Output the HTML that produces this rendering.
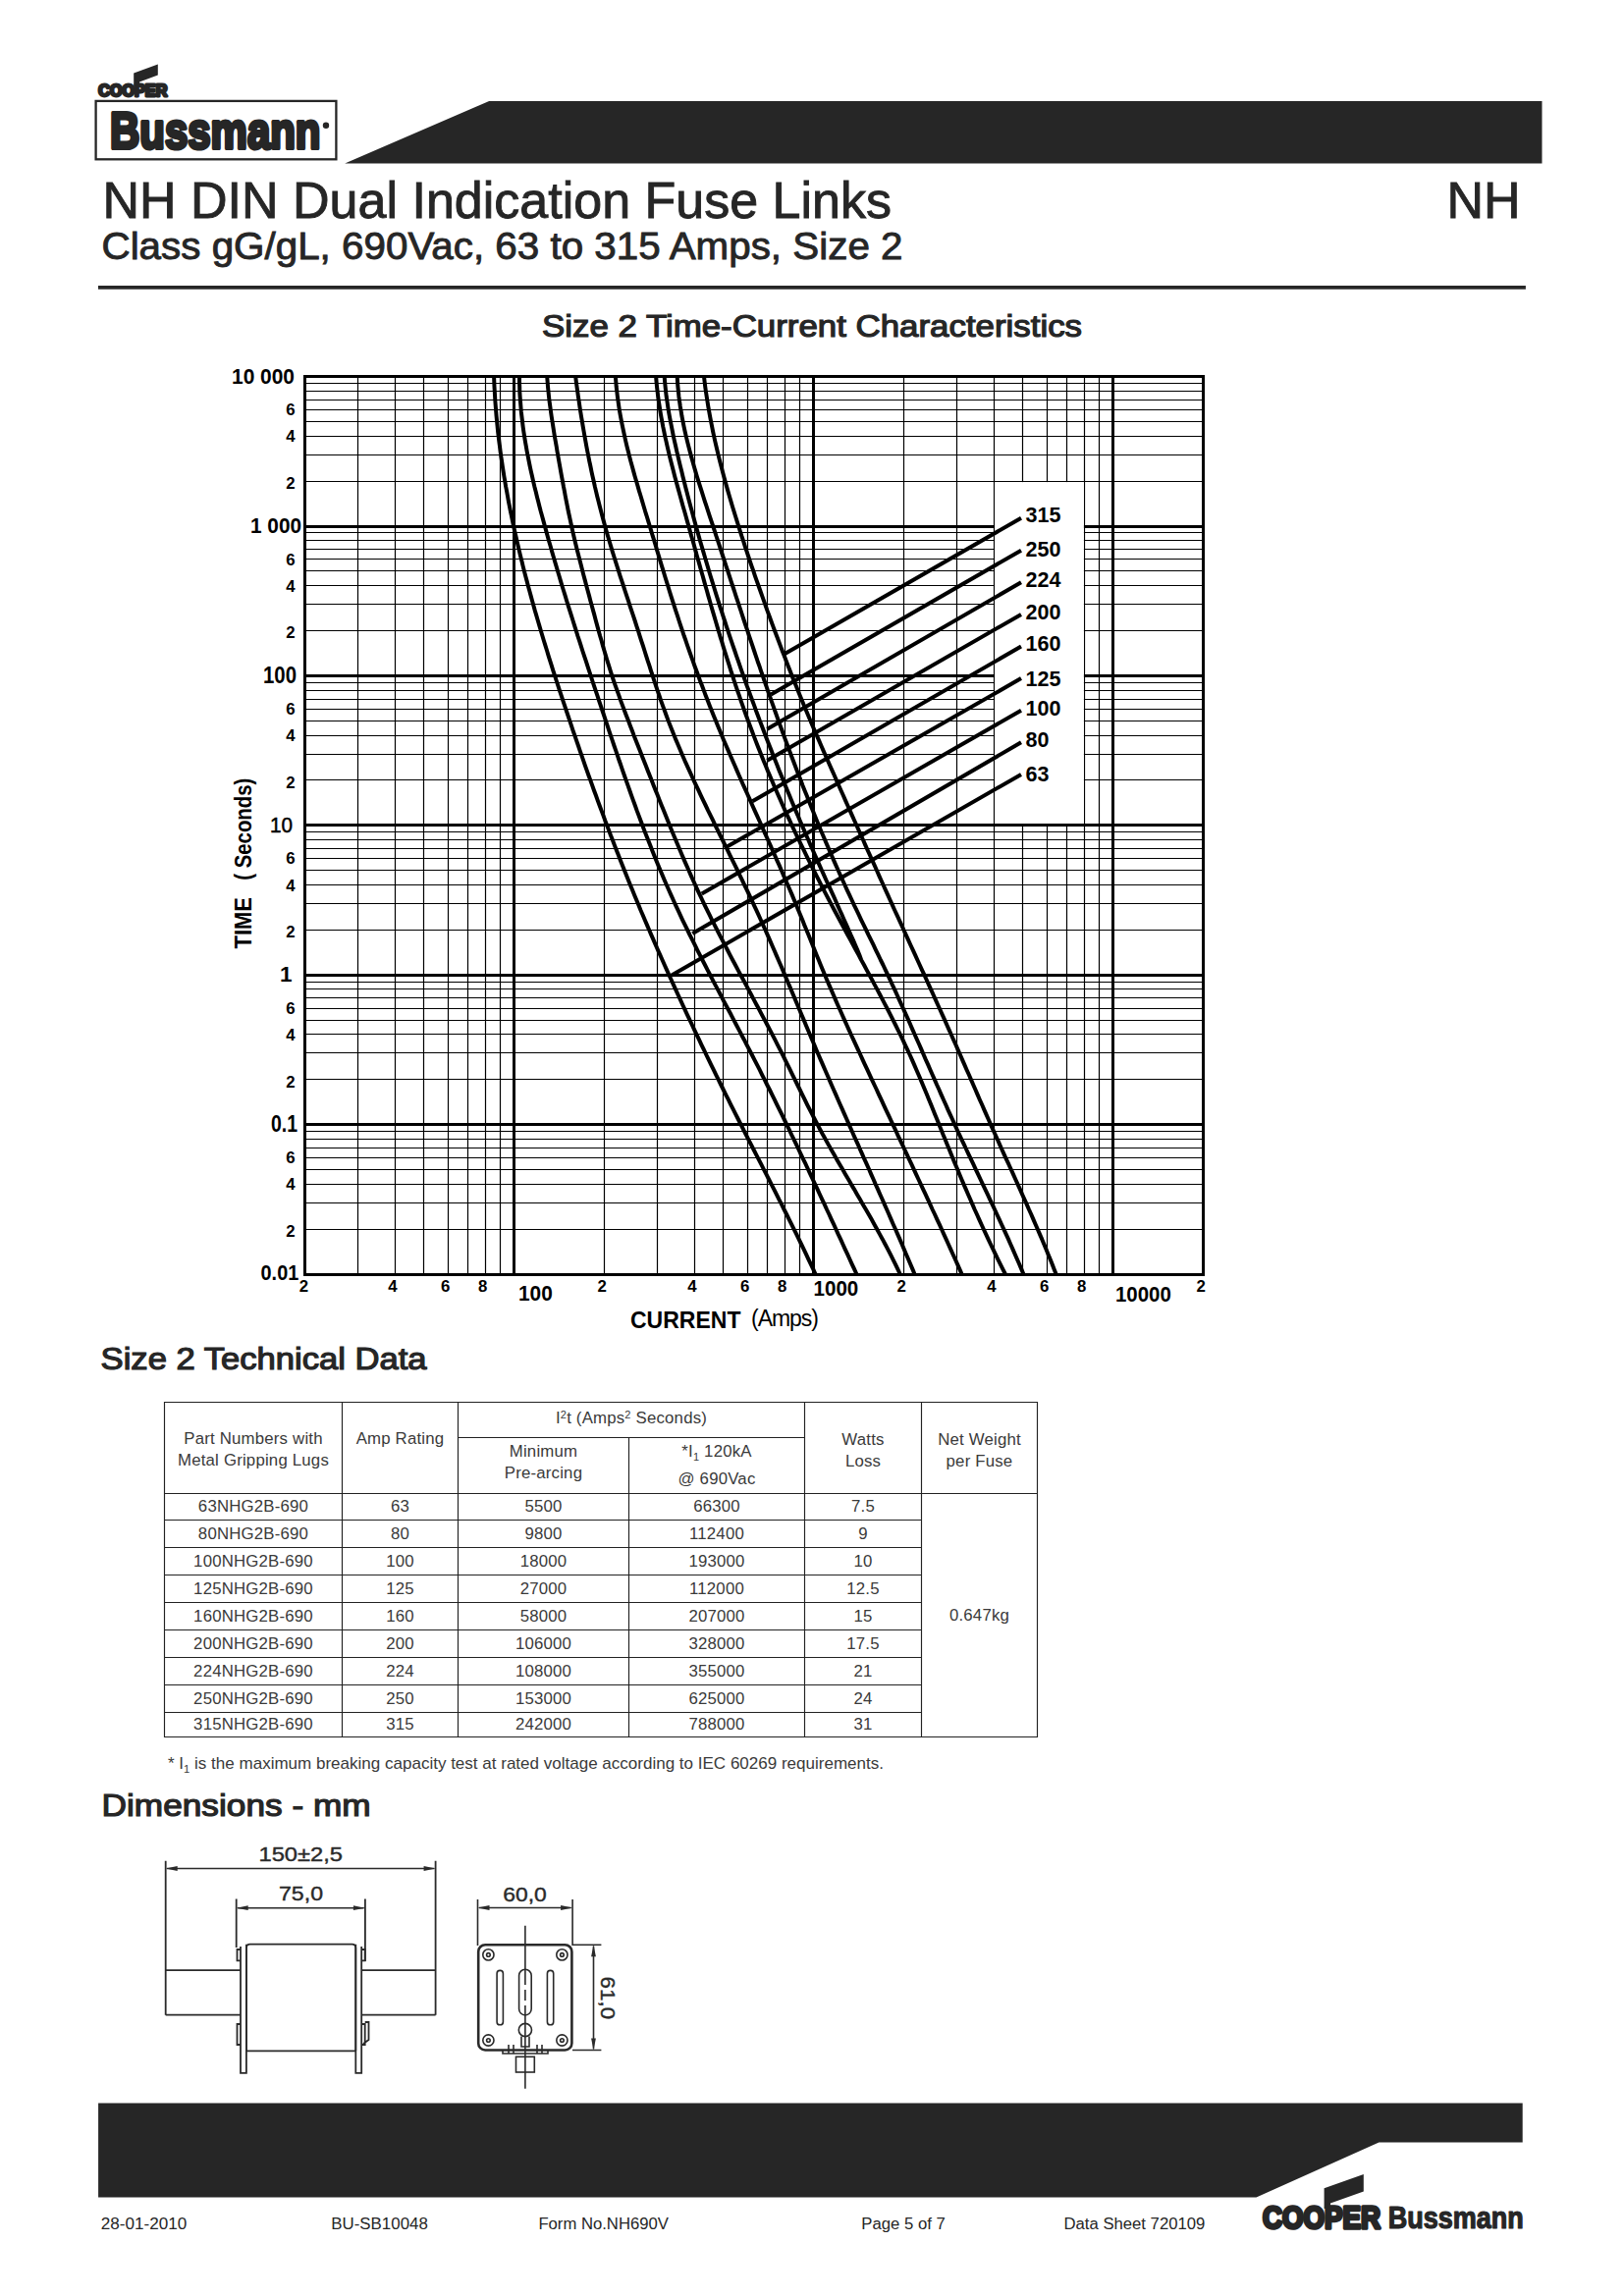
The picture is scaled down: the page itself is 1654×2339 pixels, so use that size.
<!DOCTYPE html>
<html lang="en"><head><meta charset="utf-8"><title>NH DIN Dual Indication Fuse Links - Size 2</title>
<style>
html,body{margin:0;padding:0;background:#fff}
body{width:1654px;height:2339px;position:relative;overflow:hidden}
svg{position:absolute;left:0;top:0}
</style></head><body>
<svg width="1654" height="2339" viewBox="0 0 1654 2339">
<g fill="#262626">
<text x="100.3" y="97.6" font-family="'Liberation Sans', Arial, sans-serif" font-weight="bold" font-size="16" textLength="70" lengthAdjust="spacingAndGlyphs" stroke="#262626" stroke-width="2.8" stroke-linejoin="round">COOPER</text>
<polygon points="136.2,74.6 160.8,65.4 160.8,76.6 142,83.5 142,88 136.2,88"/>
<rect x="97.6" y="102.9" width="244.8" height="59.4" fill="none" stroke="#262626" stroke-width="2.3"/>
<text x="112" y="151.3" font-family="'Liberation Sans', Arial, sans-serif" font-weight="bold" font-size="52.5" textLength="214.5" lengthAdjust="spacingAndGlyphs" stroke="#262626" stroke-width="4" stroke-linejoin="round">Bussmann</text>
<circle cx="332" cy="127.7" r="3.2"/>
<polygon points="351.2,166.6 498.1,103 1570.5,103 1570.5,166.6"/>
<rect x="100" y="291" width="1453.9" height="3.7"/>
</g>
<g font-family="'Liberation Sans', Arial, sans-serif" fill="#262626" stroke="#262626" stroke-width="0.9">
<text x="104.5" y="221.8" font-size="52">NH DIN Dual Indication Fuse Links</text>
<text x="1473.5" y="221.7" font-size="52">NH</text>
<text x="103.5" y="263.5" font-size="39.5" textLength="816" lengthAdjust="spacingAndGlyphs">Class gG/gL, 690Vac, 63 to 315 Amps, Size 2</text>
<text x="552" y="342.8" font-size="31.5" stroke-width="1.2" textLength="550" lengthAdjust="spacingAndGlyphs">Size 2 Time-Current Characteristics</text>
<text x="102.6" y="1394.7" font-size="31.2" stroke-width="1.2" textLength="332" lengthAdjust="spacingAndGlyphs">Size 2 Technical Data</text>
<text x="103.6" y="1850.1" font-size="31.2" stroke-width="1.2" textLength="274" lengthAdjust="spacingAndGlyphs">Dimensions - mm</text>
</g>
<g id="chart">
<path d="M310.5 1252.5H1225.5M310.5 1225.5H1225.5M310.5 1206.5H1225.5M310.5 1191.5H1225.5M310.5 1179.5H1225.5M310.5 1169.5H1225.5M310.5 1160.5H1225.5M310.5 1152.5H1225.5M310.5 1099.5H1225.5M310.5 1072.5H1225.5M310.5 1053.5H1225.5M310.5 1039.5H1225.5M310.5 1027.5H1225.5M310.5 1016.5H1225.5M310.5 1007.5H1225.5M310.5 1000.5H1225.5M310.5 947.5H1225.5M310.5 920.5H1225.5M310.5 901.5H1225.5M310.5 886.5H1225.5M310.5 874.5H1225.5M310.5 864.5H1225.5M310.5 855.5H1225.5M310.5 847.5H1225.5M310.5 794.5H1225.5M310.5 768.5H1225.5M310.5 749.5H1225.5M310.5 734.5H1225.5M310.5 722.5H1225.5M310.5 712.5H1225.5M310.5 703.5H1225.5M310.5 695.5H1225.5M310.5 642.5H1225.5M310.5 615.5H1225.5M310.5 596.5H1225.5M310.5 581.5H1225.5M310.5 569.5H1225.5M310.5 559.5H1225.5M310.5 550.5H1225.5M310.5 542.5H1225.5M310.5 490.5H1225.5M310.5 463.5H1225.5M310.5 444.5H1225.5M310.5 429.5H1225.5M310.5 417.5H1225.5M310.5 407.5H1225.5M310.5 398.5H1225.5M310.5 390.5H1225.5M364.5 383.6V1298.0M402.5 383.6V1298.0M431.5 383.6V1298.0M456.5 383.6V1298.0M476.5 383.6V1298.0M494.5 383.6V1298.0M509.5 383.6V1298.0M615.5 383.6V1298.0M669.5 383.6V1298.0M707.5 383.6V1298.0M736.5 383.6V1298.0M761.5 383.6V1298.0M781.5 383.6V1298.0M799.5 383.6V1298.0M814.5 383.6V1298.0M920.5 383.6V1298.0M974.5 383.6V1298.0M1012.5 383.6V1298.0M1041.5 383.6V1298.0M1066.5 383.6V1298.0M1086.5 383.6V1298.0M1104.5 383.6V1298.0M1119.5 383.6V1298.0" stroke="#000" stroke-width="1.2" fill="none"/>
<path d="M310.5 1145.5H1225.5M310.5 993.5H1225.5M310.5 840.5H1225.5M310.5 688.5H1225.5M310.5 536.5H1225.5M523.5 383.6V1298.0M828.5 383.6V1298.0M1133.5 383.6V1298.0" stroke="#000" stroke-width="3" fill="none"/>
<rect x="1013.1" y="491.1" width="90.8" height="347.9" fill="#fff"/>
<rect x="310.5" y="383.5" width="915.0" height="915.0" stroke="#000" stroke-width="3" fill="none"/>
<path d="M503.1,383.6 503.3,388.7 503.5,393.8 503.8,398.8 504.1,403.9 504.4,409.0 504.8,414.1 505.2,419.2 505.6,424.2 506.1,429.3 506.6,434.4 507.1,439.5 507.7,444.6 508.3,449.6 509.0,454.7 509.6,459.8 510.3,464.9 511.1,470.0 511.8,475.0 512.6,480.1 513.4,485.2 514.3,490.3 515.1,495.4 516.1,500.4 517.0,505.5 517.9,510.6 518.9,515.7 519.9,520.8 521.0,525.8 522.0,530.9 523.1,536.0 524.2,541.1 525.4,546.2 526.5,551.2 527.7,556.3 528.9,561.4 530.1,566.5 531.4,571.6 532.6,576.6 533.9,581.7 535.2,586.8 536.6,591.9 537.9,597.0 539.3,602.0 540.7,607.1 542.1,612.2 543.5,617.3 544.9,622.4 546.4,627.4 547.9,632.5 549.4,637.6 550.9,642.7 552.4,647.8 553.9,652.8 555.5,657.9 557.1,663.0 558.6,668.1 560.2,673.2 561.8,678.2 563.4,683.3 565.1,688.4 566.7,693.5 568.4,698.6 570.0,703.6 571.7,708.7 573.4,713.8 575.1,718.9 576.8,724.0 578.5,729.0 580.2,734.1 581.9,739.2 583.6,744.3 585.4,749.4 587.1,754.4 588.9,759.5 590.6,764.6 592.4,769.7 594.2,774.8 595.9,779.8 597.7,784.9 599.5,790.0 601.4,795.1 603.2,800.2 605.0,805.2 606.9,810.3 608.7,815.4 610.6,820.5 612.5,825.6 614.4,830.6 616.2,835.7 618.2,840.8 620.1,845.9 622.0,851.0 624.0,856.0 625.9,861.1 627.9,866.2 629.9,871.3 631.9,876.4 633.9,881.4 635.9,886.5 637.9,891.6 640.0,896.7 642.0,901.8 644.1,906.8 646.2,911.9 648.3,917.0 650.4,922.1 652.5,927.2 654.7,932.2 656.8,937.3 659.0,942.4 661.2,947.5 663.4,952.6 665.6,957.6 667.8,962.7 670.0,967.8 672.3,972.9 674.6,978.0 676.8,983.0 679.1,988.1 681.4,993.2 683.7,998.3 686.0,1003.4 688.3,1008.4 690.6,1013.5 693.0,1018.6 695.3,1023.7 697.7,1028.8 700.0,1033.8 702.4,1038.9 704.8,1044.0 707.2,1049.1 709.6,1054.2 712.0,1059.2 714.4,1064.3 716.9,1069.4 719.3,1074.5 721.8,1079.6 724.2,1084.6 726.7,1089.7 729.2,1094.8 731.7,1099.9 734.2,1105.0 736.7,1110.0 739.2,1115.1 741.8,1120.2 744.3,1125.3 746.9,1130.4 749.4,1135.4 752.0,1140.5 754.6,1145.6 757.1,1150.7 759.7,1155.8 762.3,1160.8 764.9,1165.9 767.5,1171.0 770.1,1176.1 772.7,1181.2 775.3,1186.2 777.9,1191.3 780.5,1196.4 783.1,1201.5 785.7,1206.6 788.3,1211.6 790.8,1216.7 793.4,1221.8 796.0,1226.9 798.5,1232.0 801.1,1237.0 803.6,1242.1 806.1,1247.2 808.7,1252.3 811.2,1257.4 813.6,1262.4 816.1,1267.5 818.6,1272.6 821.0,1277.7 823.4,1282.8 825.8,1287.8 828.2,1292.9 830.5,1298.0 M529.0,383.6 529.0,388.7 529.2,393.8 529.3,398.8 529.6,403.9 530.0,409.0 530.4,414.1 530.8,419.2 531.4,424.2 532.0,429.3 532.6,434.4 533.3,439.5 534.1,444.6 534.9,449.6 535.8,454.7 536.7,459.8 537.7,464.9 538.7,470.0 539.7,475.0 540.8,480.1 542.0,485.2 543.1,490.3 544.3,495.4 545.6,500.4 546.8,505.5 548.1,510.6 549.4,515.7 550.7,520.8 552.1,525.8 553.5,530.9 554.9,536.0 556.3,541.1 557.7,546.2 559.1,551.2 560.6,556.3 562.0,561.4 563.5,566.5 565.0,571.6 566.5,576.6 568.0,581.7 569.5,586.8 571.0,591.9 572.5,597.0 574.1,602.0 575.7,607.1 577.2,612.2 578.8,617.3 580.4,622.4 582.0,627.4 583.6,632.5 585.2,637.6 586.8,642.7 588.4,647.8 590.1,652.8 591.7,657.9 593.3,663.0 595.0,668.1 596.7,673.2 598.3,678.2 600.0,683.3 601.7,688.4 603.3,693.5 605.0,698.6 606.7,703.6 608.4,708.7 610.1,713.8 611.8,718.9 613.5,724.0 615.2,729.0 616.9,734.1 618.6,739.2 620.3,744.3 622.0,749.4 623.7,754.4 625.4,759.5 627.2,764.6 628.9,769.7 630.6,774.8 632.4,779.8 634.1,784.9 635.9,790.0 637.7,795.1 639.5,800.2 641.3,805.2 643.1,810.3 644.9,815.4 646.8,820.5 648.6,825.6 650.5,830.6 652.4,835.7 654.3,840.8 656.2,845.9 658.2,851.0 660.2,856.0 662.2,861.1 664.2,866.2 666.2,871.3 668.3,876.4 670.4,881.4 672.5,886.5 674.6,891.6 676.8,896.7 679.0,901.8 681.2,906.8 683.5,911.9 685.8,917.0 688.1,922.1 690.5,927.2 692.8,932.2 695.2,937.3 697.7,942.4 700.2,947.5 702.6,952.6 705.2,957.6 707.7,962.7 710.2,967.8 712.8,972.9 715.4,978.0 718.0,983.0 720.6,988.1 723.3,993.2 725.9,998.3 728.5,1003.4 731.2,1008.4 733.9,1013.5 736.5,1018.6 739.2,1023.7 741.9,1028.8 744.6,1033.8 747.2,1038.9 749.9,1044.0 752.6,1049.1 755.2,1054.2 757.9,1059.2 760.5,1064.3 763.2,1069.4 765.8,1074.5 768.4,1079.6 771.0,1084.6 773.6,1089.7 776.1,1094.8 778.7,1099.9 781.2,1105.0 783.8,1110.0 786.3,1115.1 788.8,1120.2 791.3,1125.3 793.8,1130.4 796.3,1135.4 798.8,1140.5 801.2,1145.6 803.7,1150.7 806.1,1155.8 808.6,1160.8 811.0,1165.9 813.4,1171.0 815.8,1176.1 818.2,1181.2 820.7,1186.2 823.0,1191.3 825.4,1196.4 827.8,1201.5 830.2,1206.6 832.6,1211.6 834.9,1216.7 837.3,1221.8 839.7,1226.9 842.0,1232.0 844.4,1237.0 846.7,1242.1 849.1,1247.2 851.4,1252.3 853.7,1257.4 856.1,1262.4 858.4,1267.5 860.7,1272.6 863.1,1277.7 865.4,1282.8 867.7,1287.8 870.1,1292.9 872.4,1298.0 M557.2,383.6 557.6,388.7 558.0,393.8 558.5,398.8 559.0,403.9 559.6,409.0 560.3,414.1 561.0,419.2 561.7,424.2 562.5,429.3 563.3,434.4 564.1,439.5 564.9,444.6 565.8,449.6 566.7,454.7 567.5,459.8 568.4,464.9 569.3,470.0 570.2,475.0 571.1,480.1 572.0,485.2 573.0,490.3 573.9,495.4 574.9,500.4 575.8,505.5 576.8,510.6 577.8,515.7 578.8,520.8 579.9,525.8 581.0,530.9 582.1,536.0 583.2,541.1 584.4,546.2 585.6,551.2 586.8,556.3 588.1,561.4 589.4,566.5 590.7,571.6 592.0,576.6 593.3,581.7 594.6,586.8 596.0,591.9 597.3,597.0 598.7,602.0 600.1,607.1 601.4,612.2 602.8,617.3 604.2,622.4 605.6,627.4 606.9,632.5 608.3,637.6 609.7,642.7 611.1,647.8 612.6,652.8 614.0,657.9 615.5,663.0 617.0,668.1 618.5,673.2 620.1,678.2 621.7,683.3 623.3,688.4 625.0,693.5 626.8,698.6 628.6,703.6 630.4,708.7 632.2,713.8 634.1,718.9 636.0,724.0 637.9,729.0 639.9,734.1 641.8,739.2 643.8,744.3 645.7,749.4 647.7,754.4 649.7,759.5 651.7,764.6 653.7,769.7 655.7,774.8 657.7,779.8 659.7,784.9 661.7,790.0 663.7,795.1 665.7,800.2 667.7,805.2 669.8,810.3 671.8,815.4 673.8,820.5 675.9,825.6 677.9,830.6 680.0,835.7 682.0,840.8 684.1,845.9 686.2,851.0 688.3,856.0 690.4,861.1 692.6,866.2 694.7,871.3 696.9,876.4 699.1,881.4 701.4,886.5 703.6,891.6 705.9,896.7 708.2,901.8 710.5,906.8 712.9,911.9 715.3,917.0 717.7,922.1 720.2,927.2 722.7,932.2 725.2,937.3 727.8,942.4 730.4,947.5 733.0,952.6 735.6,957.6 738.2,962.7 740.9,967.8 743.5,972.9 746.2,978.0 748.9,983.0 751.6,988.1 754.3,993.2 757.1,998.3 759.8,1003.4 762.5,1008.4 765.2,1013.5 767.9,1018.6 770.6,1023.7 773.4,1028.8 776.0,1033.8 778.7,1038.9 781.4,1044.0 784.1,1049.1 786.7,1054.2 789.3,1059.2 791.9,1064.3 794.5,1069.4 797.1,1074.5 799.6,1079.6 802.1,1084.6 804.6,1089.7 807.1,1094.8 809.6,1099.9 812.1,1105.0 814.6,1110.0 817.1,1115.1 819.6,1120.2 822.1,1125.3 824.7,1130.4 827.3,1135.4 829.9,1140.5 832.6,1145.6 835.3,1150.7 838.0,1155.8 840.8,1160.8 843.6,1165.9 846.5,1171.0 849.4,1176.1 852.3,1181.2 855.2,1186.2 858.2,1191.3 861.1,1196.4 864.1,1201.5 867.0,1206.6 870.0,1211.6 872.9,1216.7 875.9,1221.8 878.8,1226.9 881.8,1232.0 884.7,1237.0 887.6,1242.1 890.4,1247.2 893.2,1252.3 896.0,1257.4 898.8,1262.4 901.5,1267.5 904.2,1272.6 906.8,1277.7 909.4,1282.8 911.9,1287.8 914.3,1292.9 916.7,1298.0 M586.2,383.6 586.8,388.7 587.5,393.8 588.2,398.8 588.9,403.9 589.7,409.0 590.4,414.1 591.2,419.2 592.0,424.2 592.9,429.3 593.7,434.4 594.6,439.5 595.5,444.6 596.4,449.6 597.3,454.7 598.3,459.8 599.3,464.9 600.3,470.0 601.4,475.0 602.4,480.1 603.5,485.2 604.7,490.3 605.8,495.4 607.0,500.4 608.2,505.5 609.5,510.6 610.8,515.7 612.1,520.8 613.4,525.8 614.8,530.9 616.2,536.0 617.6,541.1 619.1,546.2 620.6,551.2 622.1,556.3 623.6,561.4 625.2,566.5 626.8,571.6 628.4,576.6 630.0,581.7 631.6,586.8 633.3,591.9 635.0,597.0 636.6,602.0 638.3,607.1 640.0,612.2 641.6,617.3 643.3,622.4 645.0,627.4 646.7,632.5 648.3,637.6 650.0,642.7 651.6,647.8 653.2,652.8 654.9,657.9 656.5,663.0 658.1,668.1 659.7,673.2 661.4,678.2 663.0,683.3 664.7,688.4 666.3,693.5 668.0,698.6 669.7,703.6 671.5,708.7 673.2,713.8 675.0,718.9 676.9,724.0 678.7,729.0 680.6,734.1 682.6,739.2 684.6,744.3 686.7,749.4 688.7,754.4 690.9,759.5 693.0,764.6 695.2,769.7 697.4,774.8 699.7,779.8 702.0,784.9 704.3,790.0 706.6,795.1 709.0,800.2 711.4,805.2 713.8,810.3 716.2,815.4 718.7,820.5 721.1,825.6 723.6,830.6 726.1,835.7 728.5,840.8 731.0,845.9 733.5,851.0 736.0,856.0 738.5,861.1 741.0,866.2 743.5,871.3 746.0,876.4 748.5,881.4 751.0,886.5 753.4,891.6 755.9,896.7 758.3,901.8 760.8,906.8 763.2,911.9 765.6,917.0 767.9,922.1 770.3,927.2 772.6,932.2 774.9,937.3 777.2,942.4 779.5,947.5 781.8,952.6 784.0,957.6 786.2,962.7 788.4,967.8 790.6,972.9 792.8,978.0 795.0,983.0 797.2,988.1 799.3,993.2 801.5,998.3 803.6,1003.4 805.8,1008.4 807.9,1013.5 810.0,1018.6 812.2,1023.7 814.3,1028.8 816.4,1033.8 818.6,1038.9 820.7,1044.0 822.8,1049.1 825.0,1054.2 827.1,1059.2 829.3,1064.3 831.4,1069.4 833.6,1074.5 835.8,1079.6 838.0,1084.6 840.2,1089.7 842.4,1094.8 844.6,1099.9 846.8,1105.0 849.0,1110.0 851.3,1115.1 853.5,1120.2 855.7,1125.3 858.0,1130.4 860.2,1135.4 862.5,1140.5 864.7,1145.6 867.0,1150.7 869.2,1155.8 871.5,1160.8 873.8,1165.9 876.0,1171.0 878.3,1176.1 880.5,1181.2 882.8,1186.2 885.1,1191.3 887.3,1196.4 889.6,1201.5 891.8,1206.6 894.1,1211.6 896.3,1216.7 898.6,1221.8 900.8,1226.9 903.1,1232.0 905.3,1237.0 907.5,1242.1 909.7,1247.2 912.0,1252.3 914.2,1257.4 916.4,1262.4 918.6,1267.5 920.7,1272.6 922.9,1277.7 925.1,1282.8 927.2,1287.8 929.4,1292.9 931.5,1298.0 M626.9,383.6 627.3,388.7 627.7,393.8 628.3,398.8 628.9,403.9 629.6,409.0 630.3,414.1 631.1,419.2 632.0,424.2 633.0,429.3 634.0,434.4 635.1,439.5 636.2,444.6 637.3,449.6 638.5,454.7 639.8,459.8 641.1,464.9 642.4,470.0 643.8,475.0 645.2,480.1 646.6,485.2 648.1,490.3 649.6,495.4 651.0,500.4 652.6,505.5 654.1,510.6 655.6,515.7 657.1,520.8 658.7,525.8 660.2,530.9 661.8,536.0 663.3,541.1 664.8,546.2 666.4,551.2 667.9,556.3 669.4,561.4 671.0,566.5 672.5,571.6 674.0,576.6 675.6,581.7 677.1,586.8 678.7,591.9 680.3,597.0 681.8,602.0 683.4,607.1 685.0,612.2 686.7,617.3 688.3,622.4 690.0,627.4 691.6,632.5 693.3,637.6 695.0,642.7 696.7,647.8 698.5,652.8 700.2,657.9 702.0,663.0 703.8,668.1 705.6,673.2 707.4,678.2 709.3,683.3 711.2,688.4 713.0,693.5 715.0,698.6 716.9,703.6 718.8,708.7 720.8,713.8 722.8,718.9 724.8,724.0 726.8,729.0 728.9,734.1 731.0,739.2 733.1,744.3 735.2,749.4 737.3,754.4 739.5,759.5 741.7,764.6 743.9,769.7 746.1,774.8 748.3,779.8 750.5,784.9 752.7,790.0 755.0,795.1 757.2,800.2 759.5,805.2 761.8,810.3 764.1,815.4 766.3,820.5 768.6,825.6 770.9,830.6 773.2,835.7 775.5,840.8 777.7,845.9 780.0,851.0 782.3,856.0 784.6,861.1 786.8,866.2 789.1,871.3 791.3,876.4 793.6,881.4 795.8,886.5 798.0,891.6 800.2,896.7 802.4,901.8 804.6,906.8 806.8,911.9 808.9,917.0 811.0,922.1 813.1,927.2 815.2,932.2 817.3,937.3 819.3,942.4 821.4,947.5 823.5,952.6 825.5,957.6 827.6,962.7 829.6,967.8 831.7,972.9 833.8,978.0 835.8,983.0 837.9,988.1 840.1,993.2 842.2,998.3 844.4,1003.4 846.6,1008.4 848.8,1013.5 851.0,1018.6 853.2,1023.7 855.5,1028.8 857.7,1033.8 860.0,1038.9 862.3,1044.0 864.6,1049.1 866.9,1054.2 869.2,1059.2 871.6,1064.3 873.9,1069.4 876.3,1074.5 878.6,1079.6 880.9,1084.6 883.3,1089.7 885.7,1094.8 888.0,1099.9 890.4,1105.0 892.8,1110.0 895.1,1115.1 897.5,1120.2 899.9,1125.3 902.2,1130.4 904.6,1135.4 907.0,1140.5 909.4,1145.6 911.8,1150.7 914.1,1155.8 916.5,1160.8 918.9,1165.9 921.3,1171.0 923.7,1176.1 926.0,1181.2 928.4,1186.2 930.8,1191.3 933.1,1196.4 935.5,1201.5 937.9,1206.6 940.2,1211.6 942.6,1216.7 945.0,1221.8 947.3,1226.9 949.6,1232.0 952.0,1237.0 954.3,1242.1 956.7,1247.2 959.0,1252.3 961.3,1257.4 963.6,1262.4 965.9,1267.5 968.2,1272.6 970.5,1277.7 972.8,1282.8 975.1,1287.8 977.3,1292.9 979.6,1298.0 M668.1,383.6 668.5,388.7 669.0,393.8 669.6,398.8 670.2,403.9 670.9,409.0 671.7,414.1 672.5,419.2 673.3,424.2 674.3,429.3 675.2,434.4 676.3,439.5 677.3,444.6 678.5,449.6 679.6,454.7 680.8,459.8 682.0,464.9 683.3,470.0 684.6,475.0 685.9,480.1 687.2,485.2 688.6,490.3 690.0,495.4 691.4,500.4 692.8,505.5 694.2,510.6 695.6,515.7 697.1,520.8 698.5,525.8 699.9,530.9 701.4,536.0 702.8,541.1 704.2,546.2 705.7,551.2 707.1,556.3 708.5,561.4 709.9,566.5 711.4,571.6 712.8,576.6 714.2,581.7 715.7,586.8 717.1,591.9 718.5,597.0 720.0,602.0 721.4,607.1 722.9,612.2 724.3,617.3 725.8,622.4 727.3,627.4 728.8,632.5 730.3,637.6 731.8,642.7 733.3,647.8 734.9,652.8 736.4,657.9 738.0,663.0 739.6,668.1 741.2,673.2 742.8,678.2 744.4,683.3 746.1,688.4 747.7,693.5 749.4,698.6 751.1,703.6 752.9,708.7 754.6,713.8 756.4,718.9 758.2,724.0 760.0,729.0 761.9,734.1 763.8,739.2 765.7,744.3 767.6,749.4 769.5,754.4 771.5,759.5 773.5,764.6 775.6,769.7 777.6,774.8 779.7,779.8 781.8,784.9 784.0,790.0 786.1,795.1 788.3,800.2 790.5,805.2 792.7,810.3 795.0,815.4 797.2,820.5 799.5,825.6 801.8,830.6 804.2,835.7 806.5,840.8 808.9,845.9 811.3,851.0 813.8,856.0 816.2,861.1 818.7,866.2 821.2,871.3 823.7,876.4 826.2,881.4 828.7,886.5 831.3,891.6 833.9,896.7 836.5,901.8 839.1,906.8 841.7,911.9 844.4,917.0 847.1,922.1 849.8,927.2 852.5,932.2 855.2,937.3 857.9,942.4 860.7,947.5 863.4,952.6 866.2,957.6 869.0,962.7 871.7,967.8 874.5,972.9 877.2,978.0 880.0,983.0 882.7,988.1 885.5,993.2 888.2,998.3 890.9,1003.4 893.6,1008.4 896.3,1013.5 899.0,1018.6 901.6,1023.7 904.3,1028.8 906.9,1033.8 909.4,1038.9 912.0,1044.0 914.5,1049.1 917.0,1054.2 919.4,1059.2 921.8,1064.3 924.2,1069.4 926.6,1074.5 928.9,1079.6 931.1,1084.6 933.3,1089.7 935.5,1094.8 937.7,1099.9 939.8,1105.0 941.9,1110.0 944.0,1115.1 946.1,1120.2 948.2,1125.3 950.3,1130.4 952.3,1135.4 954.4,1140.5 956.4,1145.6 958.5,1150.7 960.5,1155.8 962.6,1160.8 964.7,1165.9 966.8,1171.0 968.8,1176.1 970.9,1181.2 973.0,1186.2 975.2,1191.3 977.3,1196.4 979.4,1201.5 981.6,1206.6 983.8,1211.6 986.0,1216.7 988.2,1221.8 990.4,1226.9 992.6,1232.0 994.9,1237.0 997.2,1242.1 999.5,1247.2 1001.8,1252.3 1004.2,1257.4 1006.5,1262.4 1008.9,1267.5 1011.4,1272.6 1013.8,1277.7 1016.3,1282.8 1018.8,1287.8 1021.3,1292.9 1023.9,1298.0 M676.7,383.6 677.1,388.7 677.6,393.8 678.1,398.8 678.7,403.9 679.5,409.0 680.2,414.1 681.0,419.2 681.9,424.2 682.9,429.3 683.9,434.4 684.9,439.5 685.9,444.6 687.0,449.6 688.2,454.7 689.3,459.8 690.5,464.9 691.7,470.0 692.9,475.0 694.2,480.1 695.4,485.2 696.7,490.3 698.0,495.4 699.3,500.4 700.6,505.5 701.9,510.6 703.3,515.7 704.7,520.8 706.0,525.8 707.4,530.9 708.8,536.0 710.3,541.1 711.7,546.2 713.1,551.2 714.6,556.3 716.1,561.4 717.6,566.5 719.1,571.6 720.6,576.6 722.1,581.7 723.6,586.8 725.2,591.9 726.8,597.0 728.3,602.0 729.9,607.1 731.5,612.2 733.1,617.3 734.8,622.4 736.4,627.4 738.1,632.5 739.7,637.6 741.4,642.7 743.1,647.8 744.8,652.8 746.5,657.9 748.3,663.0 750.0,668.1 751.8,673.2 753.5,678.2 755.3,683.3 757.1,688.4 758.9,693.5 760.7,698.6 762.6,703.6 764.4,708.7 766.3,713.8 768.2,718.9 770.0,724.0 771.9,729.0 773.8,734.1 775.8,739.2 777.7,744.3 779.6,749.4 781.6,754.4 783.6,759.5 785.6,764.6 787.5,769.7 789.6,774.8 791.6,779.8 793.6,784.9 795.7,790.0 797.7,795.1 799.8,800.2 801.9,805.2 804.0,810.3 806.1,815.4 808.2,820.5 810.3,825.6 812.5,830.6 814.6,835.7 816.8,840.8 819.0,845.9 821.2,851.0 823.4,856.0 825.6,861.1 827.9,866.2 830.1,871.3 832.4,876.4 834.6,881.4 836.9,886.5 839.2,891.6 841.5,896.7 843.9,901.8 846.2,906.8 848.5,911.9 850.8,917.0 853.0,922.1 855.3,927.2 857.6,932.2 859.8,937.3 862.1,942.4 864.4,947.5 866.6,952.6 868.9,957.6 871.1,962.7 873.3,967.8 875.4,972.9 877.2,978.0 880.0,983.0 882.7,988.1 885.5,993.2 888.2,998.3 890.9,1003.4 893.6,1008.4 896.3,1013.5 899.0,1018.6 901.6,1023.7 904.3,1028.8 906.9,1033.8 909.4,1038.9 912.0,1044.0 914.5,1049.1 917.0,1054.2 919.4,1059.2 921.8,1064.3 924.2,1069.4 926.6,1074.5 928.9,1079.6 931.1,1084.6 933.3,1089.7 935.5,1094.8 937.7,1099.9 939.8,1105.0 941.9,1110.0 944.0,1115.1 946.1,1120.2 948.2,1125.3 950.3,1130.4 952.3,1135.4 954.4,1140.5 956.4,1145.6 958.5,1150.7 960.5,1155.8 962.6,1160.8 964.7,1165.9 966.8,1171.0 968.8,1176.1 970.9,1181.2 973.0,1186.2 975.2,1191.3 977.3,1196.4 979.4,1201.5 981.6,1206.6 983.8,1211.6 986.0,1216.7 988.2,1221.8 990.4,1226.9 992.6,1232.0 994.9,1237.0 997.2,1242.1 999.5,1247.2 1001.8,1252.3 1004.2,1257.4 1006.5,1262.4 1008.9,1267.5 1011.4,1272.6 1013.8,1277.7 1016.3,1282.8 1018.8,1287.8 1021.3,1292.9 1023.9,1298.0 M689.7,383.6 690.0,388.7 690.4,393.8 690.9,398.8 691.4,403.9 692.1,409.0 692.8,414.1 693.7,419.2 694.5,424.2 695.5,429.3 696.5,434.4 697.6,439.5 698.8,444.6 700.0,449.6 701.3,454.7 702.6,459.8 704.0,464.9 705.4,470.0 706.8,475.0 708.3,480.1 709.8,485.2 711.4,490.3 713.0,495.4 714.6,500.4 716.2,505.5 717.8,510.6 719.5,515.7 721.2,520.8 722.8,525.8 724.5,530.9 726.2,536.0 727.9,541.1 729.5,546.2 731.2,551.2 732.9,556.3 734.5,561.4 736.2,566.5 737.9,571.6 739.5,576.6 741.2,581.7 742.9,586.8 744.5,591.9 746.2,597.0 747.9,602.0 749.5,607.1 751.2,612.2 752.9,617.3 754.6,622.4 756.2,627.4 757.9,632.5 759.6,637.6 761.3,642.7 763.0,647.8 764.7,652.8 766.4,657.9 768.1,663.0 769.8,668.1 771.5,673.2 773.3,678.2 775.0,683.3 776.8,688.4 778.5,693.5 780.3,698.6 782.0,703.6 783.8,708.7 785.6,713.8 787.4,718.9 789.2,724.0 791.0,729.0 792.8,734.1 794.6,739.2 796.5,744.3 798.3,749.4 800.2,754.4 802.1,759.5 804.0,764.6 805.9,769.7 807.8,774.8 809.7,779.8 811.6,784.9 813.6,790.0 815.6,795.1 817.5,800.2 819.5,805.2 821.6,810.3 823.6,815.4 825.6,820.5 827.7,825.6 829.7,830.6 831.8,835.7 833.9,840.8 836.0,845.9 838.2,851.0 840.3,856.0 842.5,861.1 844.7,866.2 846.9,871.3 849.1,876.4 851.3,881.4 853.6,886.5 855.9,891.6 858.2,896.7 860.5,901.8 862.8,906.8 865.2,911.9 867.6,917.0 869.9,922.1 872.4,927.2 874.8,932.2 877.2,937.3 879.7,942.4 882.2,947.5 884.6,952.6 887.1,957.6 889.6,962.7 892.0,967.8 894.5,972.9 896.9,978.0 899.4,983.0 901.8,988.1 904.2,993.2 906.6,998.3 908.9,1003.4 911.3,1008.4 913.6,1013.5 915.9,1018.6 918.2,1023.7 920.5,1028.8 922.8,1033.8 925.1,1038.9 927.3,1044.0 929.5,1049.1 931.8,1054.2 934.0,1059.2 936.3,1064.3 938.5,1069.4 940.7,1074.5 942.9,1079.6 945.2,1084.6 947.4,1089.7 949.6,1094.8 951.9,1099.9 954.1,1105.0 956.4,1110.0 958.6,1115.1 960.9,1120.2 963.2,1125.3 965.4,1130.4 967.7,1135.4 970.1,1140.5 972.4,1145.6 974.7,1150.7 977.1,1155.8 979.4,1160.8 981.8,1165.9 984.2,1171.0 986.6,1176.1 989.0,1181.2 991.4,1186.2 993.8,1191.3 996.2,1196.4 998.6,1201.5 1001.0,1206.6 1003.4,1211.6 1005.8,1216.7 1008.2,1221.8 1010.6,1226.9 1013.0,1232.0 1015.3,1237.0 1017.7,1242.1 1020.0,1247.2 1022.4,1252.3 1024.7,1257.4 1027.0,1262.4 1029.2,1267.5 1031.5,1272.6 1033.7,1277.7 1035.9,1282.8 1038.1,1287.8 1040.3,1292.9 1042.4,1298.0 M717.0,383.6 717.6,388.7 718.2,393.8 718.9,398.8 719.7,403.9 720.5,409.0 721.3,414.1 722.2,419.2 723.1,424.2 724.1,429.3 725.1,434.4 726.1,439.5 727.2,444.6 728.3,449.6 729.5,454.7 730.7,459.8 731.9,464.9 733.2,470.0 734.5,475.0 735.8,480.1 737.2,485.2 738.6,490.3 740.0,495.4 741.4,500.4 742.9,505.5 744.4,510.6 745.9,515.7 747.5,520.8 749.0,525.8 750.6,530.9 752.2,536.0 753.8,541.1 755.4,546.2 757.1,551.2 758.7,556.3 760.4,561.4 762.1,566.5 763.8,571.6 765.5,576.6 767.3,581.7 769.0,586.8 770.8,591.9 772.6,597.0 774.4,602.0 776.2,607.1 778.0,612.2 779.8,617.3 781.6,622.4 783.5,627.4 785.3,632.5 787.2,637.6 789.1,642.7 791.0,647.8 792.9,652.8 794.8,657.9 796.7,663.0 798.7,668.1 800.7,673.2 802.6,678.2 804.6,683.3 806.6,688.4 808.6,693.5 810.7,698.6 812.7,703.6 814.8,708.7 816.9,713.8 819.0,718.9 821.1,724.0 823.2,729.0 825.3,734.1 827.5,739.2 829.7,744.3 831.9,749.4 834.1,754.4 836.3,759.5 838.5,764.6 840.8,769.7 843.0,774.8 845.2,779.8 847.5,784.9 849.8,790.0 852.0,795.1 854.3,800.2 856.5,805.2 858.8,810.3 861.0,815.4 863.3,820.5 865.6,825.6 867.8,830.6 870.1,835.7 872.4,840.8 874.6,845.9 876.9,851.0 879.2,856.0 881.4,861.1 883.7,866.2 886.0,871.3 888.3,876.4 890.6,881.4 892.9,886.5 895.1,891.6 897.4,896.7 899.7,901.8 902.0,906.8 904.3,911.9 906.6,917.0 908.9,922.1 911.2,927.2 913.5,932.2 915.9,937.3 918.2,942.4 920.5,947.5 922.8,952.6 925.1,957.6 927.4,962.7 929.8,967.8 932.1,972.9 934.4,978.0 936.7,983.0 939.0,988.1 941.4,993.2 943.7,998.3 946.0,1003.4 948.3,1008.4 950.6,1013.5 952.9,1018.6 955.2,1023.7 957.5,1028.8 959.8,1033.8 962.1,1038.9 964.3,1044.0 966.6,1049.1 968.9,1054.2 971.1,1059.2 973.4,1064.3 975.6,1069.4 977.9,1074.5 980.1,1079.6 982.3,1084.6 984.5,1089.7 986.8,1094.8 989.0,1099.9 991.2,1105.0 993.4,1110.0 995.6,1115.1 997.8,1120.2 1000.1,1125.3 1002.3,1130.4 1004.5,1135.4 1006.8,1140.5 1009.0,1145.6 1011.3,1150.7 1013.6,1155.8 1015.9,1160.8 1018.1,1165.9 1020.4,1171.0 1022.7,1176.1 1025.0,1181.2 1027.4,1186.2 1029.7,1191.3 1032.0,1196.4 1034.3,1201.5 1036.6,1206.6 1038.9,1211.6 1041.1,1216.7 1043.4,1221.8 1045.7,1226.9 1047.9,1232.0 1050.2,1237.0 1052.4,1242.1 1054.6,1247.2 1056.8,1252.3 1059.0,1257.4 1061.2,1262.4 1063.3,1267.5 1065.4,1272.6 1067.5,1277.7 1069.6,1282.8 1071.6,1287.8 1073.6,1292.9 1075.6,1298.0" stroke="#000" stroke-width="4" fill="none" stroke-linejoin="round"/>
<path d="M798.5 666.6L1040 527.7M785.2 707.4L1040 560.7M781.3 742.7L1040 593.3M781.3 774.8L1040 625.9M766.4 816.3L1040 658.5M740.5 862.6L1040 691.1M714.7 910.4L1040 723.7M705.3 951.1L1040 756.3M684.1 993.4L1040 788.9" stroke="#000" stroke-width="4" fill="none"/>
<g font-family="'Liberation Sans', Arial, sans-serif" font-weight="bold" font-size="21.5" fill="#000">
<text x="1044.5" y="531.9">315</text>
<text x="1044.5" y="566.7">250</text>
<text x="1044.5" y="597.8">224</text>
<text x="1044.5" y="630.8">200</text>
<text x="1044.5" y="662.5">160</text>
<text x="1044.5" y="698.5">125</text>
<text x="1044.5" y="728.9">100</text>
<text x="1044.5" y="760.7">80</text>
<text x="1044.5" y="796.3">63</text>
</g>
<g font-family="'Liberation Sans', Arial, sans-serif" fill="#000" text-anchor="end">
<text x="300.0" y="390.6" font-weight="bold" font-size="22.6" textLength="64.0" lengthAdjust="spacingAndGlyphs">10 000</text>
<text x="307.0" y="542.6" font-weight="bold" font-size="22.6" textLength="52.0" lengthAdjust="spacingAndGlyphs">1 000</text>
<text x="302.0" y="695.6" font-weight="bold" font-size="24" textLength="34.0" lengthAdjust="spacingAndGlyphs">100</text>
<text x="298.0" y="847.6" font-weight="normal" font-size="22.6" textLength="23.0" lengthAdjust="spacingAndGlyphs" stroke="#000" stroke-width="0.5">10</text>
<text x="297.6" y="999.6" font-weight="bold" font-size="22.5">1</text>
<text x="303.0" y="1153.4" font-weight="bold" font-size="23.6" textLength="27.0" lengthAdjust="spacingAndGlyphs">0.1</text>
<text x="304.2" y="1303.6" font-weight="bold" font-size="22.3" textLength="38.6" lengthAdjust="spacingAndGlyphs">0.01</text>
<text x="300.6" y="1185.2" font-weight="bold" font-size="16.8">6</text>
<text x="300.6" y="1212.3" font-weight="bold" font-size="16.8">4</text>
<text x="300.6" y="1259.9" font-weight="bold" font-size="16.8">2</text>
<text x="300.6" y="1032.8" font-weight="bold" font-size="16.8">6</text>
<text x="300.6" y="1059.9" font-weight="bold" font-size="16.8">4</text>
<text x="300.6" y="1107.5" font-weight="bold" font-size="16.8">2</text>
<text x="300.6" y="880.4" font-weight="bold" font-size="16.8">6</text>
<text x="300.6" y="907.5" font-weight="bold" font-size="16.8">4</text>
<text x="300.6" y="955.1" font-weight="bold" font-size="16.8">2</text>
<text x="300.6" y="728.0" font-weight="bold" font-size="16.8">6</text>
<text x="300.6" y="755.1" font-weight="bold" font-size="16.8">4</text>
<text x="300.6" y="802.7" font-weight="bold" font-size="16.8">2</text>
<text x="300.6" y="575.6" font-weight="bold" font-size="16.8">6</text>
<text x="300.6" y="602.7" font-weight="bold" font-size="16.8">4</text>
<text x="300.6" y="650.3" font-weight="bold" font-size="16.8">2</text>
<text x="300.6" y="423.2" font-weight="bold" font-size="16.8">6</text>
<text x="300.6" y="450.3" font-weight="bold" font-size="16.8">4</text>
<text x="300.6" y="497.9" font-weight="bold" font-size="16.8">2</text>
</g>
<g font-family="'Liberation Sans', Arial, sans-serif" fill="#000" font-weight="bold" text-anchor="middle" font-size="16.8">
<text x="309.3" y="1316">2</text>
<text x="399.9" y="1316">4</text>
<text x="453.6" y="1316">6</text>
<text x="491.7" y="1316">8</text>
<text x="613.1" y="1316">2</text>
<text x="704.9" y="1316">4</text>
<text x="758.6" y="1316">6</text>
<text x="796.7" y="1316">8</text>
<text x="918.1" y="1316">2</text>
<text x="1009.9" y="1316">4</text>
<text x="1063.6" y="1316">6</text>
<text x="1101.7" y="1316">8</text>
<text x="1223.1" y="1316">2</text>
</g>
<g font-family="'Liberation Sans', Arial, sans-serif" fill="#000" font-weight="bold" font-size="21.5">
<text x="528" y="1324.8" textLength="34.8" lengthAdjust="spacingAndGlyphs">100</text>
<text x="828.5" y="1320" textLength="45.8" lengthAdjust="spacingAndGlyphs">1000</text>
<text x="1136" y="1326.2" textLength="56.8" lengthAdjust="spacingAndGlyphs">10000</text>
<text x="642" y="1352.8" font-size="23">CURRENT</text>
<text x="765" y="1350.5" font-weight="normal" font-size="23" textLength="69">(Amps)</text>
<text transform="translate(256.4,966.4) rotate(-90)" font-size="23" textLength="52.3" lengthAdjust="spacingAndGlyphs">TIME</text>
<text transform="translate(256.4,896.7) rotate(-90)" font-size="23" textLength="104" lengthAdjust="spacingAndGlyphs">( Seconds)</text>
</g>
</g>
<path d="M167.5 1428.5H1056.5V1769.5H167.5ZM348.5 1428.5V1769.5M466.5 1428.5V1769.5M819.5 1428.5V1769.5M938.5 1428.5V1769.5M640.5 1464.5V1769.5M466.5 1464.5H819.5M167.5 1521.5H938.5M167.5 1548.5H938.5M167.5 1576.5H938.5M167.5 1604.5H938.5M167.5 1632.5H938.5M167.5 1660.5H938.5M167.5 1688.5H938.5M167.5 1716.5H938.5M167.5 1744.5H938.5M938.5 1521.5H1056.5" stroke="#222" stroke-width="1.15" fill="none"/>
<g font-family="'Liberation Sans', Arial, sans-serif" fill="#3a3a3a" font-size="16.8" letter-spacing="0.2" text-anchor="middle">
<text x="258.0" y="1470.7">Part Numbers with</text>
<text x="258.0" y="1493.4">Metal Gripping Lugs</text>
<text x="407.5" y="1470.7">Amp Rating</text>
<text x="643.0" y="1450.3">I<tspan font-size="11" dy="-5">2</tspan><tspan dy="5">t (Amps</tspan><tspan font-size="11" dy="-5">2</tspan><tspan dy="5"> Seconds)</tspan></text>
<text x="553.5" y="1483.5">Minimum</text>
<text x="553.5" y="1505.7">Pre-arcing</text>
<text x="730.0" y="1483.5">*I<tspan font-size="11" dy="4">1</tspan><tspan dy="-4"> 120kA</tspan></text>
<text x="730.0" y="1511.6">@ 690Vac</text>
<text x="879.0" y="1471.7">Watts</text>
<text x="879.0" y="1493.9">Loss</text>
<text x="997.5" y="1471.7">Net Weight</text>
<text x="997.5" y="1493.9">per Fuse</text>
<text x="258.0" y="1540.0">63NHG2B-690</text>
<text x="407.5" y="1540.0">63</text>
<text x="553.5" y="1540.0">5500</text>
<text x="730.0" y="1540.0">66300</text>
<text x="879.0" y="1540.0">7.5</text>
<text x="258.0" y="1567.5">80NHG2B-690</text>
<text x="407.5" y="1567.5">80</text>
<text x="553.5" y="1567.5">9800</text>
<text x="730.0" y="1567.5">112400</text>
<text x="879.0" y="1567.5">9</text>
<text x="258.0" y="1595.5">100NHG2B-690</text>
<text x="407.5" y="1595.5">100</text>
<text x="553.5" y="1595.5">18000</text>
<text x="730.0" y="1595.5">193000</text>
<text x="879.0" y="1595.5">10</text>
<text x="258.0" y="1623.5">125NHG2B-690</text>
<text x="407.5" y="1623.5">125</text>
<text x="553.5" y="1623.5">27000</text>
<text x="730.0" y="1623.5">112000</text>
<text x="879.0" y="1623.5">12.5</text>
<text x="258.0" y="1651.5">160NHG2B-690</text>
<text x="407.5" y="1651.5">160</text>
<text x="553.5" y="1651.5">58000</text>
<text x="730.0" y="1651.5">207000</text>
<text x="879.0" y="1651.5">15</text>
<text x="258.0" y="1679.5">200NHG2B-690</text>
<text x="407.5" y="1679.5">200</text>
<text x="553.5" y="1679.5">106000</text>
<text x="730.0" y="1679.5">328000</text>
<text x="879.0" y="1679.5">17.5</text>
<text x="258.0" y="1707.5">224NHG2B-690</text>
<text x="407.5" y="1707.5">224</text>
<text x="553.5" y="1707.5">108000</text>
<text x="730.0" y="1707.5">355000</text>
<text x="879.0" y="1707.5">21</text>
<text x="258.0" y="1735.5">250NHG2B-690</text>
<text x="407.5" y="1735.5">250</text>
<text x="553.5" y="1735.5">153000</text>
<text x="730.0" y="1735.5">625000</text>
<text x="879.0" y="1735.5">24</text>
<text x="258.0" y="1762.0">315NHG2B-690</text>
<text x="407.5" y="1762.0">315</text>
<text x="553.5" y="1762.0">242000</text>
<text x="730.0" y="1762.0">788000</text>
<text x="879.0" y="1762.0">31</text>
<text x="997.5" y="1651.3">0.647kg</text>
</g>
<text x="171" y="1801.7" font-family="'Liberation Sans', Arial, sans-serif" fill="#3a3a3a" font-size="16.6" textLength="729" lengthAdjust="spacingAndGlyphs">* I<tspan font-size="11" dy="4">1</tspan><tspan dy="-4"> is the maximum breaking capacity test at rated voltage according to IEC 60269 requirements.</tspan></text>
<g stroke="#2a2a2a" stroke-width="1.8" fill="none">
<path d="M168.7 1895.7V2052.7M443.6 1895.7V2052.7M240.7 1934.5V1984M371.9 1934.5V1998"/>
<path d="M170 1903.5H442.3M242 1943.7H370.6" stroke-width="1.5"/>
<path d="M168.7 2007.1H245M168.7 2052.7H245M368.5 2007.1H443.6M368.5 2052.7H443.6"/>
<path d="M250.9 2089.3V1984.5Q250.9 1980.7 254.7 1980.7H358.5Q362.3 1980.7 362.3 1984.5V2089.3"/>
<path d="M250.9 2089.3H362.3"/>
<path d="M245 1983V2111.8H250.9V1980.7M362.3 1980.7V2111.8H368.2V1983"/>
<path d="M245 1986H241.5V1997.3H245M368.2 1986H371.7V1997.3H368.2"/>
<path d="M245 2062H241.5V2083H245M368.2 2062H371.7V2083H368.2M371.7 2060H375.5V2078L370 2082"/>
</g>
<g fill="#2a2a2a">
<path d="M168.7 1903.5l12 -2.4v4.8zM443.6 1903.5l-12 -2.4v4.8z"/>
<path d="M240.7 1943.7l12 -2.4v4.8zM371.9 1943.7l-12 -2.4v4.8z"/>
<path d="M486.5 1943.5l12 -2.4v4.8zM583.1 1943.5l-12 -2.4v4.8z"/>
<path d="M604.5 1981.2l-2.4 12h4.8zM604.5 2088.5l-2.4 -12h4.8z"/>
</g>
<g stroke="#2a2a2a" stroke-width="1.6" fill="none">
<path d="M486.5 1935.1V1982M583.1 1935.1V1982M488 1943.5H581.6"/>
<path d="M583 1981.2H612.4M583 2088.5H612.4M604.5 1982.5V2087.2"/>
<rect x="487.2" y="1981.2" width="95.2" height="107.3" rx="7" stroke-width="2.6"/>
<circle cx="497.4" cy="1991.4" r="5.6"/><circle cx="497.4" cy="1991.4" r="1.8"/>
<circle cx="497.4" cy="2078.5" r="5.6"/><circle cx="497.4" cy="2078.5" r="1.8"/>
<circle cx="572.4" cy="1991.4" r="5.6"/><circle cx="572.4" cy="1991.4" r="1.8"/>
<circle cx="572.4" cy="2078.5" r="5.6"/><circle cx="572.4" cy="2078.5" r="1.8"/>
<rect x="506.1" y="2007.4" width="6.3" height="55.4" rx="3.1"/>
<rect x="557.4" y="2007.4" width="6.3" height="55.4" rx="3.1"/>
<rect x="528.6" y="2006.3" width="12.6" height="46.6" rx="6.3"/>
<path d="M534.9 1961.8V2022M534.9 2027V2038M534.9 2043V2127.7"/>
<circle cx="534.9" cy="2068" r="6.6"/>
<path d="M531 2074.6V2085H539V2074.6"/>
<path d="M512 2088.5V2092H558V2088.5M518 2083V2092M523 2083V2092M547 2083V2092M552 2083V2092"/>
<rect x="525.5" y="2095.3" width="18.8" height="15.7"/>
</g>
<g font-family="'Liberation Sans', Arial, sans-serif" fill="#2a2a2a" font-size="20.5" stroke="#2a2a2a" stroke-width="0.4">
<text x="263.5" y="1896.3" textLength="85.5" lengthAdjust="spacingAndGlyphs">150±2,5</text>
<text x="284" y="1936" textLength="45" lengthAdjust="spacingAndGlyphs">75,0</text>
<text x="512.3" y="1936.7" textLength="44.5" lengthAdjust="spacingAndGlyphs">60,0</text>
<text transform="translate(611.5,2013.6) rotate(90)" textLength="43.5" lengthAdjust="spacingAndGlyphs">61,0</text>
</g>
<g fill="#262626">
<polygon points="100.1,2142.4 1550.7,2142.4 1550.7,2182.4 1404.4,2182.4 1279.5,2238.6 100.1,2238.6"/>
<polygon points="1348.6,2229.2 1388.8,2215 1388.8,2232.6 1355,2244.5 1355,2250 1348.6,2250"/>
<text x="1286" y="2269.7" font-family="'Liberation Sans', Arial, sans-serif" font-weight="bold" font-size="30.5" textLength="120" lengthAdjust="spacingAndGlyphs" stroke="#262626" stroke-width="3.4" stroke-linejoin="round">COOPER</text>
<text x="1413.8" y="2269.9" font-family="'Liberation Sans', Arial, sans-serif" font-weight="bold" font-size="30.5" textLength="138" lengthAdjust="spacingAndGlyphs" stroke="#262626" stroke-width="1.2" stroke-linejoin="round">Bussmann</text>
</g>
<g font-family="'Liberation Sans', Arial, sans-serif" fill="#262626" font-size="15.8" lengthAdjust="spacingAndGlyphs">
<text x="102.8" y="2270.6" textLength="87.5" lengthAdjust="spacingAndGlyphs">28-01-2010</text>
<text x="337.3" y="2270.6" textLength="98.5" lengthAdjust="spacingAndGlyphs">BU-SB10048</text>
<text x="548.4" y="2270.6" textLength="132.5" lengthAdjust="spacingAndGlyphs">Form No.NH690V</text>
<text x="877.3" y="2270.6" textLength="85.5" lengthAdjust="spacingAndGlyphs">Page 5 of 7</text>
<text x="1083.5" y="2270.6" textLength="143.8" lengthAdjust="spacingAndGlyphs">Data Sheet 720109</text>
</g>
</svg>
</body></html>
